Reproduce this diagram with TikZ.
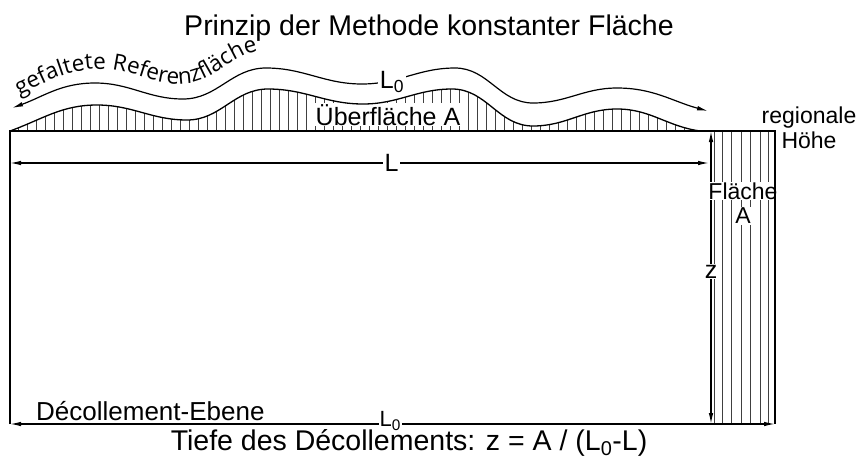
\documentclass[tikz,border=0pt]{standalone}
\usepackage{fontspec}
\setmainfont{Liberation Sans}
\newfontfamily\curvefont{Open Sans}
\usetikzlibrary{arrows.meta,decorations.text}

% folded surface (upper edge of the area A)
\newcommand{\surfaceline}{(10,-131) to[out=20,in=180] (97,-105)
  to[out=0,in=180] (187,-120) to[out=0,in=180] (268,-89)
  to[out=0,in=180] (363,-104) to[out=0,in=180] (452,-89)
  to[out=0,in=180] (533,-126) to[out=0,in=180] (617,-109)
  to[out=0,in=172] (700,-131)}

\begin{document}
\begin{tikzpicture}[
    x=1pt, y=1pt,
    >={Latex[length=11pt,width=4.5pt]},
    edge/.style={line width=1.3pt},
    dim/.style={<->, line width=1.2pt},
    hatch/.style={line width=0.6pt, black!75},
    lbl/.style={
        fill=white,
        inner sep=1.5pt,
        font=\fontsize{25}{28}\selectfont
    },
    small/.style={
        inner sep=1pt,
        font=\fontsize{23}{25}\selectfont
    },
    big/.style={
        anchor=base,
        inner sep=0pt,
        font=\fontsize{28.5}{30}\selectfont
    }
]
\useasboundingbox (0,0) rectangle (858,-459);

% Title
\node[big] (title) at (429,-35) {Prinzip der Methode konstanter Fläche};

% Frame corners
\coordinate (tl) at (10,-131);
\coordinate (tr) at (775,-131);
\coordinate (bl) at (10,-424);
\coordinate (br) at (775,-424);

% Hatching below the folded surface
\begin{scope}
  \clip \surfaceline -- cycle;
  \foreach \x in {18,27,...,699}
    \draw[hatch] (\x,-131) -- (\x,-80);
\end{scope}
\node[lbl, anchor=base, inner sep=1pt] (ueber) at (388,-125) {Überfläche A};
\draw[edge] \surfaceline;

% Folded reference surface
\draw[dim] (12,-108) to[out=20,in=180] (95,-83)
  to[out=0,in=180] (183,-99) to[out=0,in=180] (266,-68)
  to[out=0,in=180] (362,-84) to[out=0,in=180] (455,-68)
  to[out=0,in=180] (533,-103) to[out=0,in=180] (617,-88)
  to[out=0,in=165] (708,-111);
\node[lbl] (Ltop) at (392,-82) {L\textsubscript{0}};
\path[decorate, decoration={text along path, text align=left,
    text={|\curvefont\fontsize{22.5}{26}\selectfont|gefaltete Referenzfläche}}]
  (19,-95) to[out=25,in=180] (102,-69) to[out=0,in=180] (180,-84)
  to[out=0,in=180] (268,-50);

% Hatched column of area A
\foreach \x in {714,722,731,741,750,760,768}
  \draw[hatch] (\x,-131) -- (\x,-424);

% Lengths and depth
\coordinate (La) at (10,-163);
\coordinate (Lb) at (709,-163);
\draw[dim] (La) -- node[lbl, pos=0.546] (L) {L} (Lb);
\coordinate (za) at (711,-131);
\coordinate (zb) at (711,-424);
\draw[dim] (za) -- node[lbl, pos=0.48, inner sep=1pt] (z) {z} (zb);
\draw[dim] (bl) -- node[lbl, pos=0.497, yshift=3pt, inner sep=1pt,
    font=\fontsize{22}{24}\selectfont] (Lbot) {L\textsubscript{0}} (br);

\node[lbl, small] (flaeche) at (743,-191) {Fläche};
\node[lbl, small] (areaA) at (743,-216) {A};

% Frame
\draw[edge] (bl) -- (tl) -- (tr) -- (br);

% Other labels
\node[small, align=center] (regional) at (809,-128) {regionale\\Höhe};
\node[anchor=base west, inner sep=0pt, font=\fontsize{26}{28}\selectfont]
  (decol) at (36,-420) {Décollement-Ebene};
\node[big] (depth) at (409,-450)
  {Tiefe des Décollements: z = A / (L\textsubscript{0}-L)};

\end{tikzpicture}
\end{document}
